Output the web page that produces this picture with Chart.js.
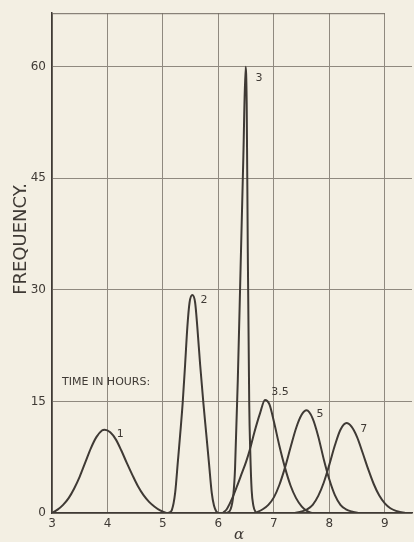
<!DOCTYPE html>
<html>
<head>
<meta charset="utf-8">
<style>
  html, body { margin: 0; padding: 0; background: #f3efe3; }
  #wrap { width: 414px; height: 542px; }
</style>
</head>
<body>
<div id="wrap"><canvas id="chart"></canvas></div>
<script src="https://cdn.jsdelivr.net/npm/chart.js"></script>
<script>
// axis ticks
const xTicks = [3, 4, 5, 6, 7, 8, 9];
const yTicks = [0, 15, 30, 45, 60];

// curves (alpha vs frequency), one per time in hours
const curveNames = ['1', '2', '3', '3.5', '5', '7'];

const x1 = [3.0, 3.1, 3.2, 3.3, 3.4, 3.5, 3.6, 3.7, 3.8, 3.9, 3.95, 4.05, 4.15, 4.25, 4.35, 4.45, 4.55, 4.65, 4.75, 4.85, 4.95, 5.05, 5.1];
const y1 = [0, 0.45, 1.1, 2.0, 3.3, 4.9, 6.8, 8.7, 10.2, 11.1, 11.2, 10.85, 9.9, 8.4, 6.7, 5.1, 3.6, 2.4, 1.5, 0.85, 0.35, 0.05, 0];

const x2 = [5.1, 5.16, 5.22, 5.27, 5.31, 5.355, 5.4, 5.44, 5.48, 5.53, 5.58, 5.62, 5.67, 5.73, 5.78, 5.83, 5.88, 5.92, 5.96, 6.0];
const y2 = [0, 0.4, 2.7, 7, 10.5, 14.7, 20, 25, 28.3, 29.3, 28.3, 25, 20, 14.7, 10.7, 6.7, 2.7, 1.0, 0.25, 0];

const x3 = [6.15, 6.22, 6.27, 6.3, 6.35, 6.4, 6.45, 6.49, 6.51, 6.53, 6.555, 6.575, 6.6, 6.63, 6.68];
const y3 = [0, 0.5, 2.5, 6, 18, 33, 48, 60, 55, 35, 15, 8, 3, 1, 0];

const x35 = [6.08, 6.15, 6.2, 6.25, 6.33, 6.4, 6.5, 6.57, 6.65, 6.75, 6.84, 6.92, 7.0, 7.1, 7.2, 7.3, 7.4, 7.5, 7.6, 7.68];
const y35 = [0, 0.5, 1.2, 2.0, 3.5, 4.9, 6.9, 8.6, 10.9, 13.4, 15.2, 14.6, 12.3, 9.0, 6.1, 3.7, 2.0, 0.9, 0.25, 0];

const x5 = [6.66, 6.8, 6.9, 7.0, 7.1, 7.2, 7.3, 7.4, 7.5, 7.59, 7.7, 7.8, 7.9, 8.0, 8.1, 8.2, 8.3, 8.4, 8.52];
const y5 = [0, 0.5, 1.1, 2.1, 3.8, 6.1, 8.8, 11.4, 13.2, 13.8, 12.7, 10.3, 7.2, 4.5, 2.4, 1.1, 0.5, 0.2, 0];

const x7 = [7.38, 7.5, 7.6, 7.7, 7.8, 7.9, 8.0, 8.1, 8.2, 8.31, 8.4, 8.5, 8.6, 8.7, 8.8, 8.9, 9.0, 9.1, 9.2, 9.3, 9.38];
const y7 = [0, 0.2, 0.5, 1.1, 2.3, 4.1, 6.5, 9.1, 11.2, 12.1, 11.6, 10.2, 8.1, 5.9, 3.9, 2.35, 1.3, 0.64, 0.29, 0.1, 0];

const curveX = [x1, x2, x3, x35, x5, x7];
const curveY = [y1, y2, y3, y35, y5, y7];

// where each curve's label sits (data units)
const labelX = [4.23, 5.74, 6.73, 7.11, 7.83, 8.62];
const labelY = [10.6, 28.6, 58.5, 16.2, 13.3, 11.3];

const INK = '#3f3a35';
const GRID = '#8f897f';
const BG = '#f3efe3';

const datasets = curveNames.map((name, i) => ({
    label: name,
    data: curveX[i].map((x, j) => ({ x: x, y: curveY[i][j] })),
    borderColor: INK,
    borderWidth: 2,
    pointRadius: 0,
    fill: false,
    cubicInterpolationMode: 'monotone'
}));

const paperPlugin = {
    id: 'paper',
    beforeDraw(chart) {
        const ctx = chart.ctx;
        ctx.save();
        ctx.fillStyle = BG;
        ctx.fillRect(0, 0, chart.width, chart.height);
        ctx.restore();
    },
    afterDraw(chart) {
        const ctx = chart.ctx;
        const xs = chart.scales.x, ys = chart.scales.y;
        ctx.save();
        // top frame line runs only to alpha = 9
        ctx.strokeStyle = '#6e685f';
        ctx.lineWidth = 1;
        ctx.beginPath();
        ctx.moveTo(xs.getPixelForValue(3), chart.chartArea.top + 0.5);
        ctx.lineTo(xs.getPixelForValue(9), chart.chartArea.top + 0.5);
        ctx.stroke();

        ctx.fillStyle = INK;
        ctx.font = '11px "DejaVu Sans"';
        ctx.textBaseline = 'middle';
        ctx.textAlign = 'center';
        curveNames.forEach((name, i) => {
            ctx.fillText(name, xs.getPixelForValue(labelX[i]), ys.getPixelForValue(labelY[i]));
        });
        ctx.textAlign = 'left';
        ctx.fillText('TIME IN HOURS:', xs.getPixelForValue(3.18), ys.getPixelForValue(17.6));

        // axis titles
        ctx.font = '18px "DejaVu Sans"';
        ctx.textAlign = 'center';
        ctx.textBaseline = 'alphabetic';
        ctx.translate(25.5, 239);
        ctx.rotate(-Math.PI / 2);
        ctx.fillText('FREQUENCY.', 0, 0);
        ctx.restore();

        ctx.save();
        ctx.fillStyle = INK;
        ctx.font = 'italic 15px "DejaVu Serif"';
        ctx.textAlign = 'center';
        ctx.textBaseline = 'middle';
        ctx.fillText('α', 239, 535);
        ctx.restore();
    }
};

new Chart(document.getElementById('chart'), {
    type: 'line',
    data: { datasets: datasets },
    options: {
        responsive: true,
        maintainAspectRatio: false,
        animation: false,
        layout: { padding: { top: 12, right: 2, left: 0, bottom: 0 } },
        plugins: {
            legend: { display: false },
            tooltip: { enabled: false }
        },
        scales: {
            x: {
                type: 'linear',
                min: 3,
                max: 9.49,
                afterBuildTicks: (scale) => { scale.ticks = xTicks.map(v => ({ value: v })); },
                afterFit: (scale) => { scale.height = 29; },
                ticks: {
                    color: INK,
                    padding: 4,
                    font: { family: 'DejaVu Sans', size: 12 },
                    maxRotation: 0
                },
                grid: { color: GRID, lineWidth: 1, drawTicks: false },
                border: { color: INK, width: 1.5 }
            },
            y: {
                type: 'linear',
                min: 0,
                max: 67.2,
                afterBuildTicks: (scale) => { scale.ticks = yTicks.map(v => ({ value: v })); },
                afterFit: (scale) => { scale.width = 52; },
                ticks: {
                    color: INK,
                    padding: 6,
                    font: { family: 'DejaVu Sans', size: 12 }
                },
                grid: { color: GRID, lineWidth: 1, drawTicks: false },
                border: { color: INK, width: 1.5 }
            }
        }
    },
    plugins: [paperPlugin]
});
</script>
</body>
</html>
